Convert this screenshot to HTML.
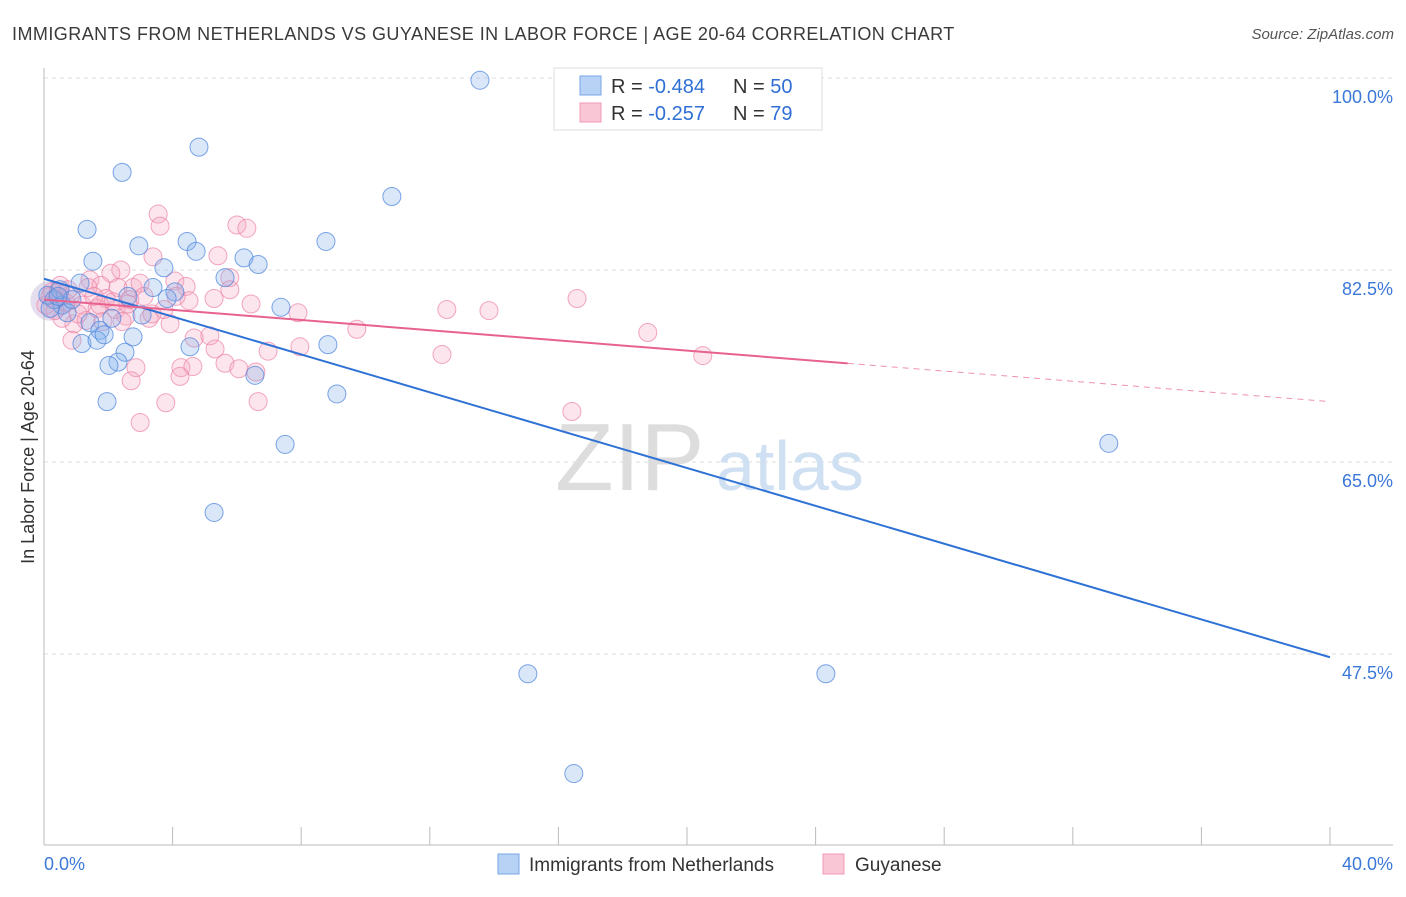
<!DOCTYPE html>
<html><head><meta charset="utf-8"><style>
body{margin:0;background:#fff;width:1406px;height:892px;overflow:hidden;font-family:"Liberation Sans",sans-serif}
svg text{font-family:"Liberation Sans",sans-serif}
</style></head><body>
<svg id="chart" width="1406" height="892">
<text x="12" y="40" font-size="18" fill="#3a3a3a" letter-spacing="0.45">IMMIGRANTS FROM NETHERLANDS VS GUYANESE IN LABOR FORCE | AGE 20-64 CORRELATION CHART</text>
<text x="1394" y="39" font-size="15" fill="#555" text-anchor="end" font-style="italic">Source: ZipAtlas.com</text>
<text transform="translate(34,457) rotate(-90)" font-size="18" fill="#333" text-anchor="middle">In Labor Force | Age 20-64</text>
<g id="grid"></g>
<text x="555" y="490" font-size="96" fill="#ddd" font-family="Liberation Serif">ZIP</text>
<text x="716" y="490" font-size="70" fill="#cfe0f2">atlas</text>
<g id="points"></g>
<g id="lines"></g>
<g>
<rect x="554" y="68" width="268" height="62" fill="#fff" stroke="#ddd"/>
<rect x="580" y="76" width="21" height="19" fill="#b8d2f5" stroke="#7aa6e6"/>
<rect x="580" y="103" width="21" height="19" fill="#f9c6d6" stroke="#f09ab4"/>
<text x="611" y="93" font-size="20" fill="#333">R = <tspan fill="#2f6fd6">-0.484</tspan><tspan x="733">N = </tspan><tspan fill="#2f6fd6">50</tspan></text>
<text x="611" y="120" font-size="20" fill="#333">R = <tspan fill="#2f6fd6"> -0.257</tspan><tspan x="733">N = </tspan><tspan fill="#2f6fd6"> 79</tspan></text>
</g>
<g>
<rect x="498" y="854" width="21" height="20" fill="#b8d2f5" stroke="#7aa6e6"/>
<text x="529" y="871" font-size="19" fill="#333">Immigrants from Netherlands</text>
<rect x="823" y="854" width="21" height="20" fill="#f9c6d6" stroke="#f09ab4"/>
<text x="855" y="871" font-size="19" fill="#333">Guyanese</text>
</g>
</svg>
<script>
const blueX=[13.56,4.82,2.43,10.82,1.34,2.95,4.45,4.73,8.77,1.52,3.73,6.22,6.66,5.63,1.12,3.39,4.07,2.61,3.83,7.37,3.05,0.56,0.72,0.31,0.12,1.43,1.74,1.18,1.65,2.77,8.83,4.54,2.52,2.30,2.02,6.56,9.11,1.96,7.50,5.29,33.12,15.05,24.32,16.48,0.50,0.19,0.87,0.44,2.11,1.87];
const blueY=[99.8,93.7,91.4,89.2,86.2,84.7,85.1,84.2,85.1,83.3,82.7,83.6,83.0,81.8,81.3,80.9,80.5,80.1,79.9,79.1,78.4,79.3,78.6,79.8,80.2,77.7,77.0,75.8,76.1,76.4,75.7,75.5,75.0,74.1,73.8,72.9,71.2,70.5,66.6,60.4,66.7,45.7,45.7,36.6,80.7,79.0,79.8,80.1,78.1,76.6];
const pinkX=[3.55,3.61,6.00,6.31,5.41,1.43,2.39,2.08,3.39,4.07,4.42,1.77,2.30,2.77,0.50,0.25,5.78,5.78,5.29,6.44,4.51,2.67,1.93,0.84,1.18,1.65,2.24,3.27,3.92,2.55,7.90,12.53,13.84,16.58,9.73,18.78,20.49,12.38,7.96,6.97,5.32,4.67,5.16,5.63,6.06,6.59,4.26,4.63,2.86,2.71,3.79,6.66,2.99,16.42,0.93,1.31,1.83,0.37,0.68,0.06,0.56,1.74,2.15,2.99,1.37,3.73,4.11,0.87,4.23,3.36,2.43,1.06,0.19,0.44,1.55,2.61,3.11,0.34,0.75];
const pinkY=[87.6,86.5,86.6,86.3,83.8,81.6,82.5,82.2,83.7,81.5,81.0,81.1,80.9,80.9,81.1,80.5,81.8,80.7,79.9,79.4,79.7,79.8,79.9,80.2,79.3,79.0,78.9,78.1,77.6,78.3,78.6,78.9,78.8,79.9,77.1,76.8,74.7,74.8,75.5,75.1,75.3,76.3,76.5,74.0,73.5,73.2,73.6,73.7,73.6,72.4,70.4,70.5,68.6,69.6,77.6,77.9,77.8,79.8,79.5,79.3,78.1,79.3,79.6,81.3,80.9,78.9,80.1,76.1,72.8,78.5,77.8,78.5,80.1,80.5,80.1,79.4,80.1,78.8,80.7];
const yTicks=[100,82.5,65,47.5];
const yTickLabels=["100.0%","82.5%","65.0%","47.5%"];
const xTickLabels=["0.0%","40.0%"];
const blueTrend=[81.7,47.2];
const pinkTrend=[79.8,70.5];
const pinkSolidEnd=25;

const NS="http://www.w3.org/2000/svg";
const X=v=>44+v/40*1286;
const Y=v=>78+(100-v)*10.971;
function mk(tag,attrs,parent){const e=document.createElementNS(NS,tag);for(const k in attrs)e.setAttribute(k,attrs[k]);parent.appendChild(e);return e;}
const grid=document.getElementById('grid');
yTicks.forEach((t,i)=>{
  const l=mk('line',{x1:44,x2:1393,y1:Y(t),y2:Y(t),stroke:'#ddd','stroke-dasharray':'4,4'},grid);
  
  
  const tx=mk('text',{x:1393,y:Y(t)+25,'font-size':18,fill:'#3b78d8','text-anchor':'end'},grid);
  tx.textContent=yTickLabels[i];
  
  
});
const ax=mk('line',{x1:44,x2:44,y1:68,y2:845,stroke:'#bbb'},grid);


const bx=mk('line',{x1:44,x2:1393,y1:845,y2:845,stroke:'#bbb'},grid);


for(let i=1;i<=10;i++){
  const t=mk('line',{x1:X(i*4),x2:X(i*4),y1:827,y2:845,stroke:'#bbb'},grid);
  
  
}
[[0,'start',44],[40,'end',1393]].forEach((d,i)=>{
  const t=mk('text',{x:d[2],y:870,'font-size':18,fill:'#3b78d8','text-anchor':d[1]},grid);
  t.textContent=xTickLabels[i];
  
  
});
const pts=document.getElementById('points');
const big=mk('circle',{cx:X(0.2),cy:Y(79.7),r:20,fill:'rgba(180,160,210,0.35)',stroke:'none'},pts);


pinkX.forEach((x,i)=>{
  const c=mk('circle',{cx:X(x),cy:Y(pinkY[i]),r:9,fill:'rgba(246,170,196,0.3)',stroke:'rgba(236,130,165,0.7)','stroke-width':1},pts);
  
  
});
blueX.forEach((x,i)=>{
  const c=mk('circle',{cx:X(x),cy:Y(blueY[i]),r:9,fill:'rgba(130,175,235,0.3)',stroke:'rgba(80,135,220,0.75)','stroke-width':1},pts);
  
  
});
const lines=document.getElementById('lines');
const pAt=x=>pinkTrend[0]+(pinkTrend[1]-pinkTrend[0])*x/40;
const bl=mk('line',{x1:X(0),y1:Y(blueTrend[0]),x2:X(40),y2:Y(blueTrend[1]),stroke:'#2f72d6','stroke-width':2},lines);


const pl=mk('line',{x1:X(0),y1:Y(pAt(0)),x2:X(pinkSolidEnd),y2:Y(pAt(pinkSolidEnd)),stroke:'#e8628f','stroke-width':2},lines);


const pd=mk('line',{x1:X(pinkSolidEnd),y1:Y(pAt(pinkSolidEnd)),x2:X(40),y2:Y(pAt(40)),stroke:'#e8628f','stroke-width':1,'stroke-dasharray':'6,5',opacity:0.7},lines);


</script>
</body></html>
